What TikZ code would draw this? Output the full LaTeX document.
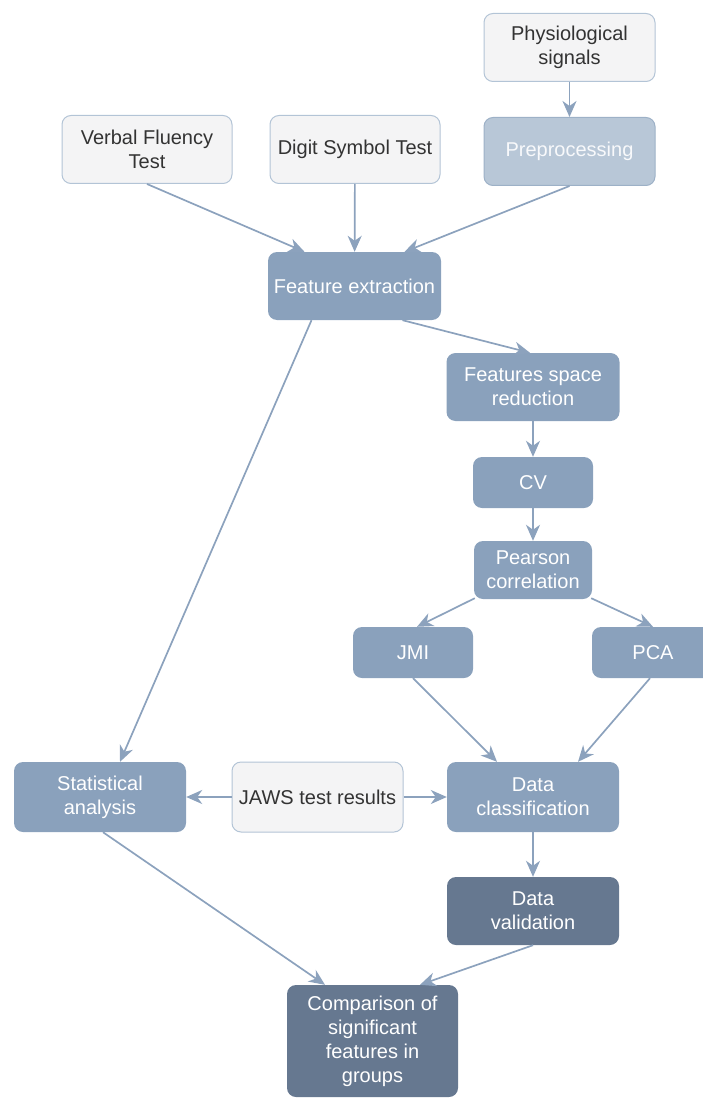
\documentclass[tikz,border=0pt]{standalone}
\usepackage{fontspec}
\setmainfont{Liberation Sans}
\usetikzlibrary{arrows.meta,positioning}
\definecolor{lightfill}{HTML}{F4F4F5}
\definecolor{lightline}{HTML}{B3C4D6}
\definecolor{palefill}{HTML}{B8C7D7}
\definecolor{paleline}{HTML}{9DB1C7}
\definecolor{midfill}{HTML}{8AA1BC}
\definecolor{darkfill}{HTML}{667890}
\definecolor{arrowcol}{HTML}{8CA2BD}
\definecolor{textdark}{HTML}{333333}
\tikzset{
  box/.style={rectangle,rounded corners=9pt,align=center,inner sep=2pt,
    minimum width=171pt,minimum height=68pt,
    font=\fontsize{20}{24}\selectfont},
  lightbox/.style={box,fill=lightfill,draw=lightline,line width=1pt,text=textdark},
  palebox/.style={box,fill=palefill,draw=paleline,line width=1pt,text=white!90!palefill},
  midbox/.style={box,fill=midfill,text=white},
  darkbox/.style={box,fill=darkfill,text=white},
  smallbox/.style={minimum width=120pt,minimum height=51pt},
  flow/.style={draw=arrowcol,line width=1.7pt,-{Stealth[length=16pt,width=14pt,inset=5pt]}}
}

\begin{document}
\begin{tikzpicture}[x=1pt,y=-1pt]
  \useasboundingbox (0,0) rectangle (702,1099);
  % inputs
  \node[lightbox] (physio) at (569.5,47.5) {Physiological\\signals};
  \node[palebox] (preproc) [below=35pt of physio] {Preprocessing};
  \node[lightbox,minimum width=170pt] (verbal) at (147,149.5) {Verbal Fluency\\Test};
  \node[lightbox,minimum width=170pt] (digit) at (355,149.5) {Digit Symbol Test};
  % processing chain
  \node[midbox,minimum width=173pt] (featext) at (354.5,286) {Feature extraction};
  \node[midbox,minimum width=173pt] (spacered) at (533,387) {Features space\\reduction};
  \node[midbox,smallbox] (cv) at (533,482.5) {CV};
  \node[midbox,smallbox,minimum width=118pt,minimum height=58pt] (pearson) at (533,570) {Pearson\\correlation};
  \node[midbox,smallbox] (jmi) at (413,652.5) {JMI};
  \node[midbox,smallbox,minimum width=122pt] (pca) at (653,652.5) {PCA};
  % results
  \node[midbox,minimum width=172pt,minimum height=70pt] (stat) at (100,797) {Statistical\\analysis};
  \node[lightbox,minimum height=70pt] (jaws) at (317.5,797) {JAWS test results};
  \node[midbox,minimum width=172pt,minimum height=70pt] (classif) at (533,797) {Data\\classification};
  \node[darkbox,minimum width=172pt] (valid) at (533,911) {Data\\validation};
  \node[darkbox,minimum height=112pt] (compare) at (372.5,1041) {Comparison of\\significant\\features in\\groups};

  \path[every edge/.style=flow]
    (physio) edge (preproc)
    (verbal.south) edge ([xshift=-50pt]featext.north)
    (digit) edge (featext)
    (preproc.south) edge ([xshift=50pt]featext.north)
    ([xshift=48pt]featext.south) edge ([xshift=-3pt]spacered.north)
    ([xshift=-43pt]featext.south) edge ([xshift=20pt]stat.north)
    (spacered) edge (cv)
    (cv) edge (pearson)
    ([xshift=1pt,yshift=1pt]pearson.south west) edge ([xshift=4pt]jmi.north)
    ([xshift=-1pt,yshift=1pt]pearson.south east) edge (pca.north)
    (jmi.south) edge ([xshift=-36pt]classif.north)
    ([xshift=-3pt]pca.south) edge ([xshift=45pt]classif.north)
    (jaws) edge (stat)
    (jaws) edge (classif)
    (classif) edge (valid)
    ([xshift=3pt]stat.south) edge ([xshift=-47.5pt]compare.north)
    (valid.south) edge ([xshift=47.5pt]compare.north);
\end{tikzpicture}
\end{document}
